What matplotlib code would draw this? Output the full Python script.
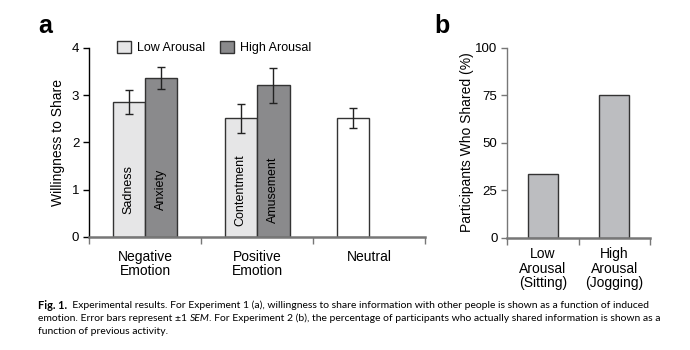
import numpy as np
import matplotlib
matplotlib.use('Agg')
import matplotlib.pyplot as plt
from matplotlib.patches import Patch

plt.rcParams['font.family'] = ['Liberation Sans', 'DejaVu Sans']

# Experiment 1 (panel a)
groups = ['Negative\nEmotion', 'Positive\nEmotion', 'Neutral']
low_names = ['Sadness', 'Contentment']
high_names = ['Anxiety', 'Amusement']
low_vals = [2.86, 2.51]
low_err = [0.26, 0.30]
high_vals = [3.37, 3.21]
high_err = [0.23, 0.37]
neutral_val = 2.52
neutral_err = 0.21

# Experiment 2 (panel b)
b_labels = ['Low\nArousal\n(Sitting)', 'High\nArousal\n(Jogging)']
b_vals = [33.3, 75.0]

low_col = '#e6e6e7'
high_col = '#8a8a8c'
edge = '#333333'
spine_gray = '#777777'

fig = plt.figure(figsize=(6.9, 3.5), dpi=100)

# ---- panel a
ax = fig.add_axes([0.129, 0.323, 0.487, 0.54])
w = 0.29
x = np.arange(2)
ekw = dict(ecolor='#222222', elinewidth=1.0, capsize=3, capthick=1.0)
ax.bar(x - w / 2, low_vals, w, color=low_col, edgecolor=edge, linewidth=1.0,
       yerr=low_err, error_kw=ekw)
ax.bar(x + w / 2, high_vals, w, color=high_col, edgecolor=edge, linewidth=1.0,
       yerr=high_err, error_kw=ekw)
ax.bar([2 - w / 2], [neutral_val], w, color='white', edgecolor=edge, linewidth=1.0,
       yerr=[neutral_err], error_kw=ekw)

for i in range(2):
    ax.text(x[i] - w / 2, 1.0, low_names[i], rotation=90, ha='center', va='center', fontsize=9)
    ax.text(x[i] + w / 2, 1.0, high_names[i], rotation=90, ha='center', va='center', fontsize=9)

ax.set_xlim(-0.5, 2.5)
ax.set_ylim(0, 4)
ax.set_yticks([0, 1, 2, 3, 4])
ax.set_xticks([-0.5, 0.5, 1.5, 2.5])
ax.set_xticklabels([])
ax.tick_params(axis='y', direction='out', length=4, width=1, labelsize=9.5, pad=3)
ax.tick_params(axis='x', direction='out', length=5, width=1, color=spine_gray)
for i, g in enumerate(groups):
    ax.text(i, -0.27, g, ha='center', va='top', fontsize=10, linespacing=1.05)
ax.spines['top'].set_visible(False)
ax.spines['right'].set_visible(False)
ax.spines['bottom'].set_color(spine_gray)
ax.spines['bottom'].set_linewidth(1.8)
ax.spines['left'].set_linewidth(1.0)
ax.set_ylabel('Willingness to Share', fontsize=10, labelpad=5)

handles = [Patch(facecolor=low_col, edgecolor=edge, label='Low Arousal'),
           Patch(facecolor=high_col, edgecolor=edge, label='High Arousal')]
ax.legend(handles=handles, loc='upper left', bbox_to_anchor=(0.05, 1.095), ncol=2,
          frameon=False, fontsize=9, handlelength=1.1, handleheight=1.1,
          handletextpad=0.5, columnspacing=1.2)

fig.text(0.055, 0.905, 'a', fontsize=18, fontweight='bold')

# ---- panel b
bx = fig.add_axes([0.735, 0.321, 0.207, 0.543])
wb = 0.42
xb = np.arange(2)
bx.bar(xb, b_vals, wb, color='#bcbdc0', edgecolor=edge, linewidth=1.0)
bx.set_xlim(-0.5, 1.5)
bx.set_ylim(0, 100)
bx.set_yticks([0, 25, 50, 75, 100])
bx.set_xticks([-0.5, 0.5, 1.5])
bx.set_xticklabels([])
bx.tick_params(axis='y', direction='out', length=4, width=1, labelsize=9.5, pad=3, color=spine_gray)
bx.tick_params(axis='x', direction='out', length=5, width=1, color=spine_gray)
for i, lab in enumerate(b_labels):
    bx.text(i, -5, lab, ha='center', va='top', fontsize=10, linespacing=1.05)
bx.spines['top'].set_visible(False)
bx.spines['right'].set_visible(False)
bx.spines['bottom'].set_color(spine_gray)
bx.spines['bottom'].set_linewidth(1.8)
bx.spines['left'].set_color(spine_gray)
bx.spines['left'].set_linewidth(1.0)
bx.set_ylabel('Participants Who Shared (%)', fontsize=10, labelpad=1)

fig.text(0.63, 0.905, 'b', fontsize=18, fontweight='bold')

# ---- caption, pieces placed one after another
cap_font = ['Lato', 'DejaVu Sans']
fs = 7.5
renderer = fig.canvas.get_renderer()
W = fig.bbox.width


def run(pieces, y, x0=38):
    xpix = x0
    for txt, kw in pieces:
        opts = dict(fontsize=fs, family=cap_font, va='center')
        opts.update(kw)
        t = fig.text(xpix / W, y, txt, **opts)
        xpix = t.get_window_extent(renderer).x1
    return xpix


run([('Fig. 1.', dict(fontweight='bold', fontsize=fs + 0.4)),
     ('  Experimental results. For Experiment 1 (a), willingness to share information '
      'with other people is shown as a function of induced', {})], 0.128)
run([('emotion. Error bars represent \u00b11 ', {}),
     ('SEM', dict(style='italic')),
     ('. For Experiment 2 (b), the percentage of participants who actually shared '
      'information is shown as a', {})], 0.09)
run([('function of previous activity.', {})], 0.052)

fig.savefig('out.png', dpi=100)
